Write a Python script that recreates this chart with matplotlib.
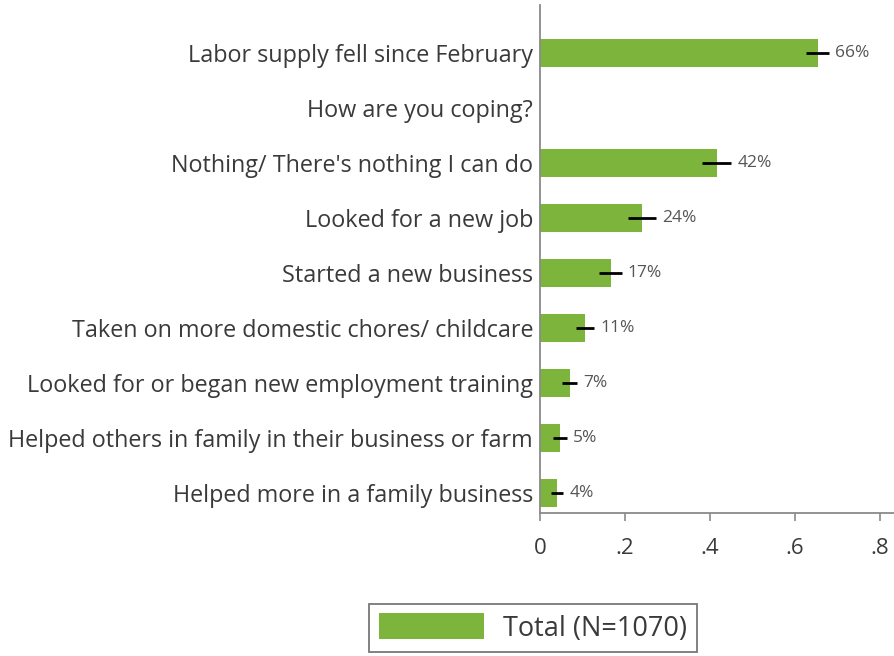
import numpy as np
import matplotlib
matplotlib.use('Agg')
import matplotlib.pyplot as plt

# data
categories = ['Labor supply fell since February',
              'How are you coping?',
              "Nothing/ There's nothing I can do",
              'Looked for a new job',
              'Started a new business',
              'Taken on more domestic chores/ childcare',
              'Looked for or began new employment training',
              'Helped others in family in their business or farm',
              'Helped more in a family business']
shares = [0.654, np.nan, 0.416, 0.24, 0.166, 0.106, 0.07, 0.047, 0.041]
errors = [0.027, np.nan, 0.034, 0.034, 0.026, 0.022, 0.018, 0.016, 0.014]
pct_labels = ['66%', '', '42%', '24%', '17%', '11%', '7%', '5%', '4%']
xticks = [0, 0.2, 0.4, 0.6, 0.8]
xtick_labels = ['0', '.2', '.4', '.6', '.8']
legend_label = 'Total (N=1070)'

green = '#7db43c'
grey_txt = '#3a3a3a'
spine = '#8a8a8a'

plt.rcParams['font.family'] = ['Open Sans', 'DejaVu Sans']

fig = plt.figure(figsize=(8.94, 6.56), dpi=100)
ax = fig.add_axes([540 / 894, 1 - 513 / 656, 1 - 540 / 894, (513 - 5) / 656])

y = np.arange(len(categories))
bars = ax.barh(y, shares, height=0.5, color=green, label=legend_label)
ax.errorbar(shares, y, xerr=errors, fmt='none', ecolor='black', elinewidth=2, capsize=0)

for yi, v, e, t in zip(y, shares, errors, pct_labels):
    if np.isnan(v):
        continue
    ax.text(v + e + 0.014, yi, t, va='center', ha='left', fontsize=12.5, color='#555555')

ax.set_xlim(0, 0.833)
ax.set_ylim(8.364, -0.873)
ax.set_yticks(y)
ax.set_yticklabels(categories, fontsize=16.8, color=grey_txt)
ax.tick_params(axis='y', length=0, pad=5)
ax.set_xticks(xticks)
ax.set_xticklabels(xtick_labels, fontsize=16, color=grey_txt)
ax.tick_params(axis='x', length=6, width=1.2, color=spine, pad=12)

for s in ['top', 'right']:
    ax.spines[s].set_visible(False)
for s in ['left', 'bottom']:
    ax.spines[s].set_color(spine)
    ax.spines[s].set_linewidth(1.3)

leg = fig.legend(handles=[bars], labels=[legend_label], loc='center',
                 bbox_to_anchor=(533 / 894, 1 - 628 / 656), fontsize=19.5,
                 handlelength=3.9, handleheight=1.1, handletextpad=0.7,
                 fancybox=False, borderpad=0.35, borderaxespad=0)
leg.get_frame().set_edgecolor('#555555')
leg.get_frame().set_linewidth(1.3)
for t in leg.get_texts():
    t.set_color(grey_txt)

fig.savefig('out.png', dpi=100)
